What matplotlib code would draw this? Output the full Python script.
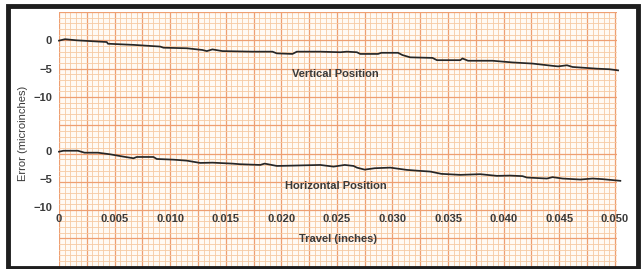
import numpy as np
import matplotlib
matplotlib.use('Agg')
import matplotlib.pyplot as plt
from matplotlib.patches import Rectangle

# travel (inches) and error (microinches)
vert_x = [0.0, 0.00054, 0.0016, 0.0034, 0.0043, 0.0044, 0.0067, 0.0091, 0.0094,
          0.0115, 0.0129, 0.0133, 0.0138, 0.0147, 0.0174, 0.0192, 0.0196, 0.0210,
          0.0214, 0.0235, 0.0253, 0.0259, 0.0268, 0.0271, 0.0287, 0.0290, 0.0305,
          0.0309, 0.0316, 0.0336, 0.0340, 0.0361, 0.0363, 0.0368, 0.0390, 0.0408,
          0.0426, 0.0444, 0.0449, 0.0457, 0.0462, 0.0484, 0.0495, 0.0503]
vert_err = [-0.05, 0.2, 0.0, -0.2, -0.3, -0.6, -0.8, -1.1, -1.3,
            -1.4, -1.7, -1.9, -1.6, -1.9, -2.0, -2.0, -2.3, -2.4,
            -2.0, -2.0, -2.1, -2.0, -2.1, -2.4, -2.4, -2.2, -2.2,
            -2.6, -3.0, -3.1, -3.5, -3.5, -3.2, -3.6, -3.6, -3.9,
            -4.1, -4.5, -4.6, -4.4, -4.7, -5.0, -5.1, -5.3]

horiz_x = [0.0, 0.0004, 0.0017, 0.0023, 0.0035, 0.0046, 0.0058, 0.0067, 0.0070,
           0.0085, 0.0088, 0.0103, 0.0115, 0.0127, 0.0138, 0.0156, 0.0163, 0.0181,
           0.0185, 0.0196, 0.0210, 0.0235, 0.0247, 0.0257, 0.0265, 0.0268, 0.0275,
           0.0284, 0.0298, 0.0313, 0.0325, 0.0334, 0.0344, 0.0361, 0.0379, 0.0394,
           0.0406, 0.0417, 0.0421, 0.0439, 0.0444, 0.0453, 0.0469, 0.0480, 0.0489,
           0.0505]
horiz_err = [-0.07, 0.1, 0.1, -0.25, -0.25, -0.54, -0.96, -1.25, -1.02,
             -1.02, -1.38, -1.5, -1.68, -2.09, -2.04, -2.21, -2.32, -2.45,
             -2.21, -2.63, -2.57, -2.45, -2.75, -2.45, -2.63, -2.93, -3.29,
             -3.04, -2.93, -3.34, -3.52, -3.64, -4.05, -4.23, -4.11, -4.41,
             -4.36, -4.46, -4.71, -4.89, -4.64, -4.89, -5.07, -4.89, -5.0,
             -5.3]

x_ticks = [0, 0.005, 0.010, 0.015, 0.020, 0.025, 0.030, 0.035, 0.040, 0.045, 0.050]
x_labels = ['0', '0.005', '0.010', '0.015', '0.020', '0.025', '0.030', '0.035',
            '0.040', '0.045', '0.050']
y_ticks = [0, -5, -10]
y_labels = ['0', '\u22125', '\u221210']

W, H = 641, 269
FONT = ['Liberation Sans Narrow', 'Liberation Sans', 'DejaVu Sans']
TXT = '#3a3a3a'
XMAX = 0.0502

fig = plt.figure(figsize=(W / 100, H / 100), dpi=100)
fig.patch.set_facecolor('white')

def box(x0, y0, x1, y1):
    # pixel box (top-left origin) -> figure fraction rect
    return [x0 / W, 1 - y1 / H, (x1 - x0) / W, (y1 - y0) / H]

# graph paper
paper = fig.add_axes(box(59, 12, 617, 269))
paper.set_xlim(0, XMAX)
paper.set_ylim(-45.4, 0)
paper.set_facecolor('#fffaf4')
for v in np.arange(0, XMAX + 1e-6, 0.0005):
    major = abs(v / 0.0025 - round(v / 0.0025)) < 1e-6
    paper.axvline(v, color='#ee9f72' if major else '#f6caa2',
                  lw=0.9 if major else 0.6, zorder=1)
for h in np.arange(0, -46, -1):
    major = h % 5 == 0
    paper.axhline(h, color='#ee9f72' if major else '#f6caa2',
                  lw=0.9 if major else 0.6, zorder=1)
paper.set_xticks([])
paper.set_yticks([])
for s in paper.spines.values():
    s.set_visible(False)

def trace_axes(rect, ymax, x, y, title, title_y):
    ax = fig.add_axes(rect)
    ax.patch.set_alpha(0)
    ax.plot(x, y, color='#262626', lw=1.25, clip_on=False)
    ax.set_xlim(0, XMAX)
    ax.set_ylim(-10, ymax)
    ax.set_yticks(y_ticks)
    ax.set_yticklabels(y_labels, family=FONT, fontsize=8, color=TXT,
                       fontweight='bold')
    ax.tick_params(axis='y', length=0, pad=5)
    for s in ax.spines.values():
        s.set_visible(False)
    ax.text(0.0249, title_y, title, family=FONT, fontsize=8, color=TXT,
            fontweight='bold', ha='center', va='center')
    return ax

# upper: 0 at y=40.5 px, -10 at 97 px
top = trace_axes(box(59, 12, 617, 97), 5.0, vert_x, vert_err,
                 'Vertical Position', -5.9)
top.set_xticks([])

# lower: 0 at y=151.3 px, -10 at 207 px
bot = trace_axes(box(59, 124, 617, 207), 4.9, horiz_x, horiz_err,
                 'Horizontal Position', -6.2)
bot.set_xticks(x_ticks)
bot.set_xticklabels(x_labels, family=FONT, fontsize=8, color=TXT,
                    fontweight='bold')
bot.tick_params(axis='x', length=0, pad=5)
bot.set_xlabel('Travel (inches)', family=FONT, fontsize=8, color=TXT,
               fontweight='bold', labelpad=7)

fig.text(23 / W, 1 - 133 / H, 'Error (microinches)', family=FONT, fontsize=8,
         color=TXT, rotation=90, ha='center', va='center')

# dark frame
fig.patches.append(Rectangle((8 / W, 1 / H), (638 - 8) / W, (262) / H,
                             transform=fig.transFigure, fill=False,
                             edgecolor='#1e1e1e', lw=3.5, zorder=10))

fig.savefig('out.png', dpi=100)
